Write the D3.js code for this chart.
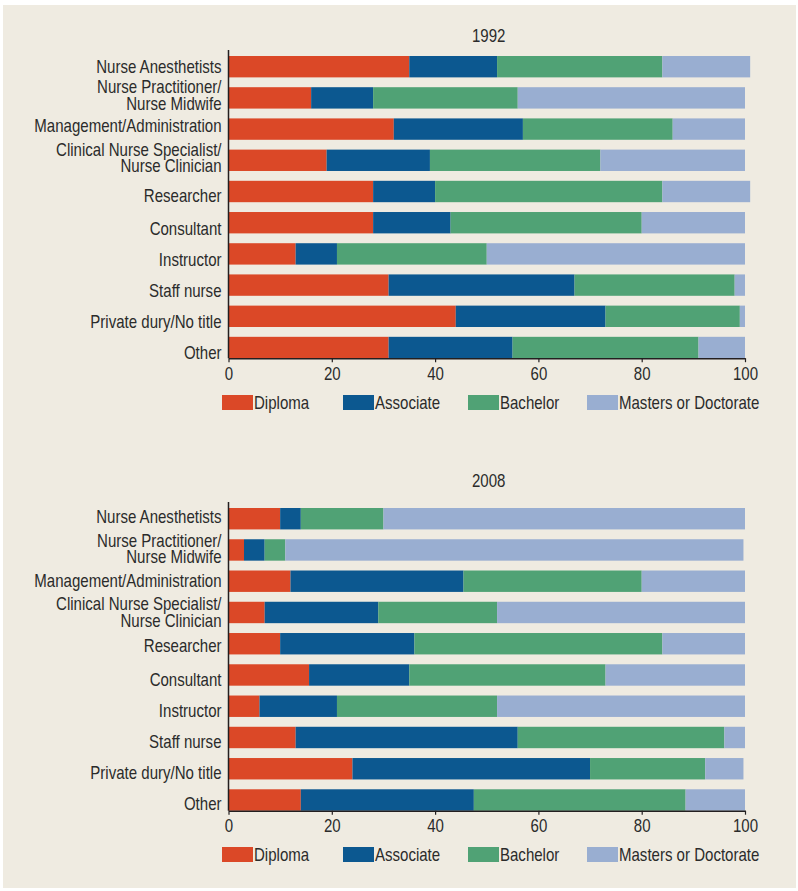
<!DOCTYPE html>
<html>
<head>
<meta charset="utf-8">
<script src="https://cdn.jsdelivr.net/npm/d3@7"></script>
<style>
  html, body { margin: 0; padding: 0; background: #ffffff; }
  svg { display: block; }
  text { font-family: "Liberation Sans", Arial, sans-serif; fill: #2b2b2b; }
</style>
</head>
<body>
<svg id="chart" width="798" height="891"></svg>
<script>
// ---------------- DATA ----------------
const categories = [
  "Nurse Anesthetists",
  "Nurse Practitioner/\nNurse Midwife",
  "Management/Administration",
  "Clinical Nurse Specialist/\nNurse Clinician",
  "Researcher",
  "Consultant",
  "Instructor",
  "Staff nurse",
  "Private dury/No title",
  "Other"
];
const seriesNames = ["Diploma", "Associate", "Bachelor", "Masters or Doctorate"];
const years = ["1992", "2008"];

const diploma1992   = [35, 16, 32, 19, 28, 28, 13, 31, 44, 31];
const associate1992 = [17, 12, 25, 20, 12, 15,  8, 36, 29, 24];
const bachelor1992  = [32, 28, 29, 33, 44, 37, 29, 31, 26, 36];
const masters1992   = [17, 44, 14, 28, 17, 20, 50,  2,  1,  9];

const diploma2008   = [10,  3, 12,  7, 10, 15.6,  6, 13, 24,   14];
const associate2008 = [ 4,  4, 33.5, 22, 26, 19.4, 15, 43, 46, 33.5];
const bachelor2008  = [16,  4, 34.5, 23, 48, 38, 31, 40, 22.3, 41];
const masters2008   = [70, 88.7, 20, 48, 16, 27, 48,  4,  7.4, 11.5];

const xTicks = [0, 20, 40, 60, 80, 100];

// ---------------- STYLE / LAYOUT ----------------
const colors = ["#DB4827", "#0C5890", "#50A275", "#99AED1"];
const fontSize = 17.8;
const narrowK = 0.845;
// baseline offset (px) of each row label relative to its bar centre, as placed in the original
const labelShiftTop    = [6, -4.5, 3.3, -4.4, 10, 12, 11.7, 11.5, 12, 11.5];
const labelShiftBottom = [4, -3.3, 5.3, -2.0, 8, 10.6, 10.3, 11, 10.6, 10.3];

const svg = d3.select("#chart");
svg.append("rect").attr("x", 3).attr("y", 5).attr("width", 793).attr("height", 883).attr("fill", "#EFEBE1");

const x = d3.scaleLinear().domain([0, 100]).range([228.5, 745]);
const color = d3.scaleOrdinal().domain(seriesNames).range(colors);

// condense text horizontally around its x anchor
function narrow(sel) {
  sel.each(function() {
    const t = d3.select(this);
    const ax = +(t.attr("x") || 0);
    t.attr("transform", `translate(${ax},0) scale(${narrowK},1) translate(${-ax},0)`);
  });
}

function buildRows(d, a, b, m) {
  return categories.map((c, i) => ({
    category: c,
    "Diploma": d[i], "Associate": a[i], "Bachelor": b[i], "Masters or Doctorate": m[i]
  }));
}

const panels = [
  { year: years[0], rows: buildRows(diploma1992, associate1992, bachelor1992, masters1992),
    titleY: 36, barTop: 56, barBottom: 358.2, legendY: 395, shifts: labelShiftTop },
  { year: years[1], rows: buildRows(diploma2008, associate2008, bachelor2008, masters2008),
    titleY: 481, barTop: 508, barBottom: 810.7, legendY: 847, shifts: labelShiftBottom }
];

const stack = d3.stack().keys(seriesNames);
const legendX = [222, 343, 468, 587];

panels.forEach(p => {
  const g = svg.append("g");
  const y = d3.scaleBand().domain(categories).range([p.barTop, p.barBottom])
    .paddingInner(0.315).paddingOuter(0);

  // title
  g.append("text").attr("x", (x.range()[0] + x.range()[1]) / 2 + 2).attr("y", p.titleY)
    .attr("dy", "0.35em").attr("text-anchor", "middle").attr("font-size", fontSize)
    .text(p.year).call(narrow);

  // bars
  const layers = stack(p.rows);
  g.selectAll("g.layer").data(layers).join("g").attr("class", "layer")
    .attr("fill", d => color(d.key))
    .selectAll("rect").data(d => d).join("rect")
    .attr("x", d => x(d[0]))
    .attr("width", d => x(d[1]) - x(d[0]))
    .attr("y", d => y(d.data.category))
    .attr("height", y.bandwidth());

  // y axis
  const yAxis = g.append("g").attr("transform", `translate(${x(0)},0)`)
    .call(d3.axisLeft(y).tickSize(0).tickPadding(7));
  yAxis.attr("font-family", null).attr("font-size", null);
  yAxis.select(".domain").remove();
  yAxis.selectAll(".tick text").each(function(d, idx) {
    const t = d3.select(this);
    const lines = d.split("\n");
    t.text(null).attr("font-size", fontSize).attr("fill", "#2b2b2b").attr("x", -7).attr("dy", null);
    lines.forEach((ln, i) => {
      t.append("tspan").attr("x", -7)
        .attr("dy", i === 0 ? p.shifts[idx] : 16.5)
        .text(ln);
    });
  }).call(narrow);
  g.append("line").attr("x1", x(0)).attr("x2", x(0))
    .attr("y1", p.barTop - 6).attr("y2", p.barBottom)
    .attr("stroke", "#231F20").attr("stroke-width", 1.5);

  // x axis
  const xAxis = g.append("g").attr("transform", `translate(0,${p.barBottom})`)
    .call(d3.axisBottom(x).tickValues(xTicks).tickSize(4).tickSizeOuter(0).tickPadding(5));
  xAxis.attr("font-family", null).attr("font-size", null);
  xAxis.select(".domain").attr("stroke", "#231F20").attr("stroke-width", 1.5);
  xAxis.selectAll(".tick line").attr("stroke", "#231F20").attr("stroke-width", 1.2);
  xAxis.selectAll(".tick text").attr("font-size", fontSize).attr("fill", "#2b2b2b").call(narrow);

  // legend
  const lg = g.selectAll("g.legend").data(seriesNames).join("g").attr("class", "legend")
    .attr("transform", (d, i) => `translate(${legendX[i]},${p.legendY})`);
  lg.append("rect").attr("width", 31).attr("height", 15).attr("fill", d => color(d));
  lg.append("text").attr("x", 32).attr("y", 8).attr("dy", "0.35em")
    .attr("font-size", fontSize).text(d => d).call(narrow);
});
</script>
</body>
</html>
